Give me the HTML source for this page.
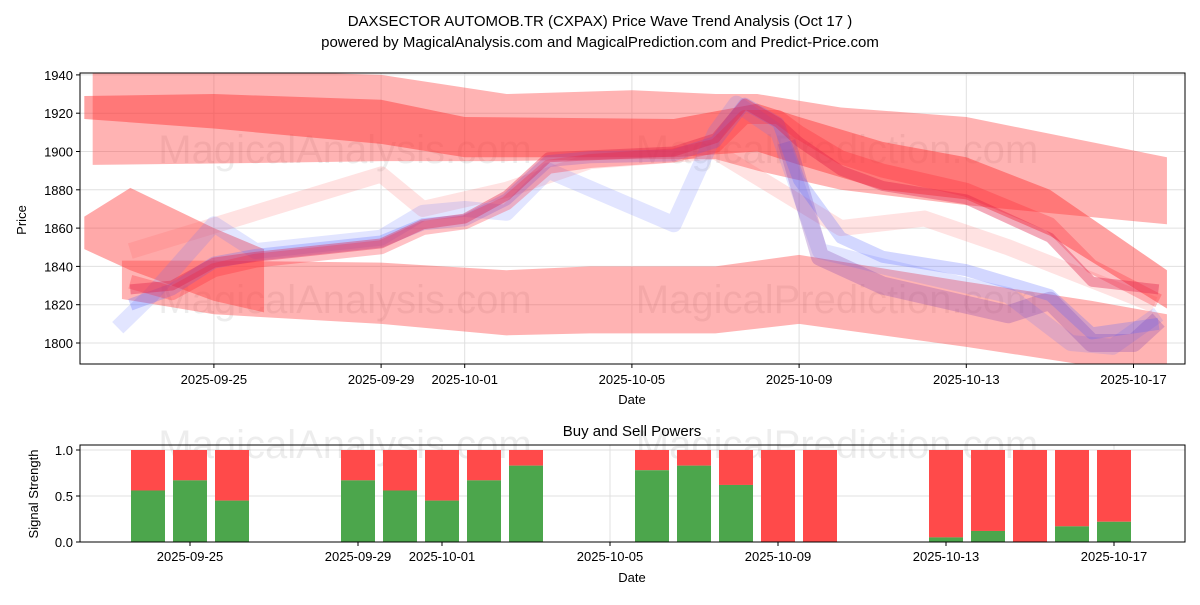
<!DOCTYPE html>
<html><head><meta charset="utf-8"><style>
body{margin:0;background:#fff;}
svg text{font-family:"Liberation Sans","DejaVu Sans",sans-serif;}
</style></head><body>
<svg id="c" width="1200" height="600" viewBox="0 0 1200 600" xmlns="http://www.w3.org/2000/svg">
<rect width="1200" height="600" fill="#fff"/>
<text x="600" y="26" text-anchor="middle" font-size="15">DAXSECTOR AUTOMOB.TR (CXPAX) Price Wave Trend Analysis (Oct 17 )</text>
<text x="600" y="47" text-anchor="middle" font-size="15">powered by MagicalAnalysis.com and MagicalPrediction.com and Predict-Price.com</text>
<g id="topPanel"></g>
<g id="botPanel"></g>
</svg>
<script>
// ---- price panel data (days since 2025-09-22) ----
const bandDays = [0.1, 4, 7, 10, 13, 15, 16, 18, 21, 25.8];
const bandAUpper = [1945, 1942, 1940, 1930, 1932, 1930, 1930, 1923, 1918, 1897];
const bandALower = [1893, 1894, 1895, 1895, 1896, 1896, 1890, 1880, 1872, 1862];
const bandBDays = [-0.1, 3, 7, 9, 14, 16, 17, 19, 21, 23, 25.8];
const bandBUpper = [1929, 1930, 1927, 1918, 1917, 1925, 1918, 1905, 1897, 1880, 1838];
const bandBLower = [1917, 1912, 1904, 1897, 1897, 1900, 1893, 1880, 1875, 1856, 1818];
const bandCDays = [0.8, 3, 7, 10, 12, 15, 17, 21, 24, 25.8];
const bandCUpper = [1843, 1843, 1842, 1838, 1840, 1840, 1846, 1832, 1822, 1815];
const bandCLower = [1823, 1815, 1810, 1804, 1805, 1805, 1810, 1798, 1788, 1785];
const bandDDays = [-0.1, 1, 3, 4.2];
const bandDUpper = [1866, 1881, 1860, 1849];
const bandDLower = [1849, 1838, 1822, 1816];
const waveDays = [1, 2, 3, 4, 7, 8, 9, 10, 11, 12, 14, 15, 15.7, 16.5, 17, 18, 19, 21, 23, 24, 25.6];
const waveRed = [1828, 1830, 1842, 1845, 1852, 1862, 1865, 1877, 1897, 1898, 1900, 1907, 1925, 1915, 1905, 1890, 1882, 1875, 1855, 1832, 1828];
const waveRed2 = [1832, 1826, 1838, 1843, 1850, 1860, 1863, 1873, 1892, 1895, 1898, 1903, 1918, 1918, 1910, 1897, 1890, 1880, 1862, 1840, 1822];
const waveBlue = [1820, 1828, 1842, 1846, 1853, 1862, 1864, 1875, 1895, 1897, 1898, 1905, 1925, 1915, 1885, 1855, 1845, 1838, 1825, 1805, 1810];
const blueAltDays = [0.7, 1.5, 3, 4, 7, 8, 9, 10, 11, 14, 15, 15.5, 16.5, 17.5, 19, 22, 23.5, 24.5, 25.6];
const blueAlt = [1808, 1825, 1862, 1848, 1855, 1868, 1870, 1868, 1890, 1862, 1910, 1925, 1910, 1848, 1840, 1825, 1800, 1798, 1815];
const paleDays = [1, 4, 7, 8, 10, 12, 15, 18, 20, 22, 25.5];
const paleRed = [1848, 1868, 1888, 1870, 1880, 1895, 1900, 1860, 1865, 1850, 1820];
const purpleDays = [16.7, 17.5, 19, 22, 23, 24, 25, 25.6];
const purpleLow = [1905, 1845, 1830, 1815, 1822, 1800, 1800, 1812];
const yTicks = [1800, 1820, 1840, 1860, 1880, 1900, 1920, 1940];
const xTickDays = [3, 7, 9, 13, 17, 21, 25];
const xTickLabels = ["2025-09-25", "2025-09-29", "2025-10-01", "2025-10-05", "2025-10-09", "2025-10-13", "2025-10-17"];
// ---- signal panel data ----
const barDays = [2, 3, 4, 7, 8, 9, 10, 11, 14, 15, 16, 17, 18, 21, 22, 23, 24, 25];
const buyPower = [0.56, 0.67, 0.45, 0.67, 0.56, 0.45, 0.67, 0.83, 0.78, 0.83, 0.62, 0, 0, 0.05, 0.12, 0, 0.17, 0.22];
const sigTicks = [0, 0.5, 1.0];
const sigTickLabels = ["0.0", "0.5", "1.0"];

const NS = "http://www.w3.org/2000/svg";
const L = 80, R = 1185, T1 = 73, B1 = 364, T2 = 445, B2 = 542;
const xt = d => 88.5 + 41.8 * d;
const yt = p => 343 - (p - 1800) * 1.915;
const xb = d => 64 + 42 * d;
const yb = v => 542 - v * 92;
function mk(tag, attrs, parent) { const e = document.createElementNS(NS, tag); for (const k in attrs) e.setAttribute(k, attrs[k]); parent.appendChild(e); return e; }
const topG = document.getElementById('topPanel'), botG = document.getElementById('botPanel');
const svgRoot = document.getElementById('c');
const defs = mk('defs', {}, svgRoot);
const cp = mk('clipPath', {id: 'cp1'}, defs); mk('rect', {x: L, y: T1, width: R - L, height: B1 - T1}, cp);

yTicks.forEach(v => { const g = mk('line', {x1: L, x2: R, y1: yt(v), y2: yt(v), stroke: '#e0e0e0', 'stroke-width': 1}, topG);   });
xTickDays.forEach(d => { const g = mk('line', {x1: xt(d), x2: xt(d), y1: T1, y2: B1, stroke: '#e0e0e0', 'stroke-width': 1}, topG);   });

const wm = [["MagicalAnalysis.com", 345, 163], ["MagicalPrediction.com", 837, 163], ["MagicalAnalysis.com", 345, 313], ["MagicalPrediction.com", 837, 313]];
wm.forEach(w => { const t = mk('text', {x: w[1], y: w[2], 'text-anchor': 'middle', 'font-size': 40, fill: '#000', 'fill-opacity': 0.07}, topG); t.textContent = w[0];   });

const plot = mk('g', {'clip-path': 'url(#cp1)'}, topG);
function band(days, up, lo, color, op, name) {
  const pts = days.map((d, i) => xt(d) + ',' + yt(up[i])).concat(days.map((d, i) => xt(d) + ',' + yt(lo[i])).reverse());
  const p = mk('polygon', {points: pts.join(' '), fill: color, 'fill-opacity': op}, plot);
   
}
function line(days, vals, color, op, w, name) {
  const p = mk('polyline', {points: days.map((d, i) => xt(d) + ',' + yt(vals[i])).join(' '), fill: 'none', stroke: color, 'stroke-opacity': op, 'stroke-width': w, 'stroke-linejoin': 'round'}, plot);
   
}
band(bandDays, bandAUpper, bandALower, '#ff4040', 0.4, 'upper-wave-band');
band(bandBDays, bandBUpper, bandBLower, '#ff3030', 0.45, 'upper-trend-band');
band(bandCDays, bandCUpper, bandCLower, '#ff4040', 0.4, 'lower-wave-band');
band(bandDDays, bandDUpper, bandDLower, '#ff4040', 0.45, 'left-wave-band');
line(paleDays, paleRed, '#ff6060', 0.18, 16, 'pale-wave-line');
line(blueAltDays, blueAlt, '#6070ff', 0.18, 16, 'blue-wave-alt');
line(purpleDays, purpleLow, '#8040b0', 0.28, 18, 'purple-wave-low');
line(waveDays, waveBlue, '#5060ff', 0.25, 12, 'blue-wave-line');
line(waveDays, waveRed2, '#ff2030', 0.28, 14, 'red-wave-line-2');
line(waveDays, waveRed, '#e0204a', 0.38, 10, 'red-wave-line');

mk('rect', {x: L, y: T1, width: R - L, height: B1 - T1, fill: 'none', stroke: '#000', 'stroke-width': 1}, topG);
yTicks.forEach(v => {
  mk('line', {x1: L - 4, x2: L, y1: yt(v), y2: yt(v), stroke: '#000'}, topG);
  const t = mk('text', {x: L - 7, y: yt(v) + 5, 'text-anchor': 'end', 'font-size': 13}, topG); t.textContent = v;
   
});
xTickDays.forEach((d, i) => {
  mk('line', {x1: xt(d), x2: xt(d), y1: B1, y2: B1 + 4, stroke: '#000'}, topG);
  const t = mk('text', {x: xt(d), y: B1 + 20, 'text-anchor': 'middle', 'font-size': 13}, topG); t.textContent = xTickLabels[i];
   
});
let tt = mk('text', {x: 632, y: 404, 'text-anchor': 'middle', 'font-size': 13}, topG); tt.textContent = 'Date';
 
tt = mk('text', {x: 26, y: 220, 'text-anchor': 'middle', 'font-size': 13, transform: 'rotate(-90 26 220)'}, topG); tt.textContent = 'Price';
 

sigTicks.forEach(v => { const g = mk('line', {x1: L, x2: R, y1: yb(v), y2: yb(v), stroke: '#e0e0e0'}, botG);   });
xTickDays.forEach(d => { const g = mk('line', {x1: xb(d), x2: xb(d), y1: T2, y2: B2, stroke: '#e0e0e0'}, botG);   });
[["MagicalAnalysis.com", 345, 458], ["MagicalPrediction.com", 837, 458]].forEach(w => { const e = mk('text', {x: w[1], y: w[2], 'text-anchor': 'middle', 'font-size': 40, fill: '#000', 'fill-opacity': 0.07}, botG); e.textContent = w[0];   });
barDays.forEach((d, i) => {
  const x = xb(d) - 17, b = buyPower[i];
  const s = mk('rect', {x: x, y: yb(1), width: 34, height: yb(b) - yb(1), fill: '#ff4a4a'}, botG);
   
  const g = mk('rect', {x: x, y: yb(b), width: 34, height: yb(0) - yb(b), fill: '#4ca64c'}, botG);
   
});
mk('rect', {x: L, y: T2, width: R - L, height: B2 - T2, fill: 'none', stroke: '#000'}, botG);
sigTicks.forEach((v, i) => {
  mk('line', {x1: L - 4, x2: L, y1: yb(v), y2: yb(v), stroke: '#000'}, botG);
  const e = mk('text', {x: L - 7, y: yb(v) + 5, 'text-anchor': 'end', 'font-size': 13}, botG); e.textContent = sigTickLabels[i];
   
});
xTickDays.forEach((d, i) => {
  mk('line', {x1: xb(d), x2: xb(d), y1: B2, y2: B2 + 4, stroke: '#000'}, botG);
  const e = mk('text', {x: xb(d), y: B2 + 19, 'text-anchor': 'middle', 'font-size': 13}, botG); e.textContent = xTickLabels[i];
   
});
tt = mk('text', {x: 632, y: 582, 'text-anchor': 'middle', 'font-size': 13}, botG); tt.textContent = 'Date';
 
tt = mk('text', {x: 38, y: 494, 'text-anchor': 'middle', 'font-size': 13, transform: 'rotate(-90 38 494)'}, botG); tt.textContent = 'Signal Strength';
 
tt = mk('text', {x: 632, y: 436, 'text-anchor': 'middle', 'font-size': 15}, botG); tt.textContent = 'Buy and Sell Powers';
 
</script>
</body></html>
